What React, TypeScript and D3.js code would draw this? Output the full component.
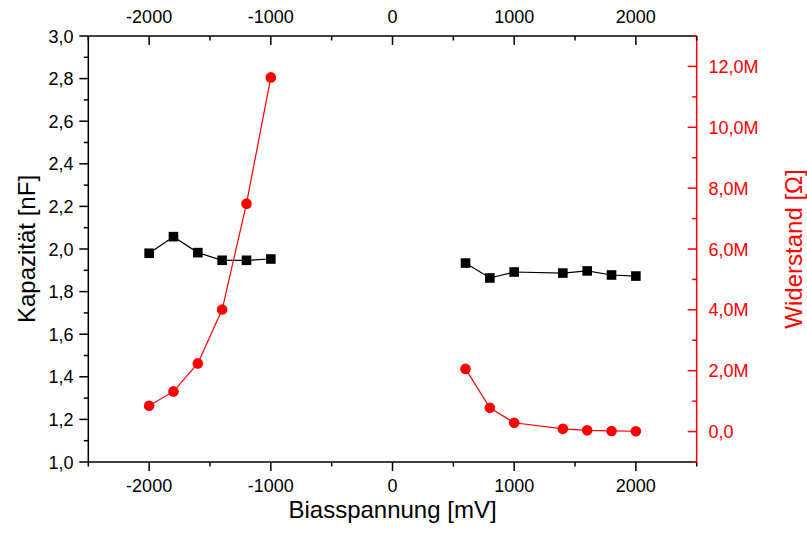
import React from "react";
import * as d3 from "d3";

const voltLeft = [-2000, -1800, -1600, -1400, -1200, -1000];
const voltRight = [600, 800, 1000, 1400, 1600, 1800, 2000];
const capLeft = [1.98, 2.058, 1.983, 1.947, 1.947, 1.953];
const capRight = [1.934, 1.864, 1.892, 1.887, 1.897, 1.878, 1.873];
const resLeftM = [0.85, 1.32, 2.24, 4.01, 7.49, 11.64];
const resRightM = [2.06, 0.78, 0.29, 0.09, 0.04, 0.02, 0.01];

const xMajor = [-2000, -1000, 0, 1000, 2000];
const xMinor = [-2500, -1500, -500, 500, 1500, 2500];
const yMajor = [1.0, 1.2, 1.4, 1.6, 1.8, 2.0, 2.2, 2.4, 2.6, 2.8, 3.0];
const yMinor = [1.1, 1.3, 1.5, 1.7, 1.9, 2.1, 2.3, 2.5, 2.7, 2.9];
const rMajorM = [0, 2, 4, 6, 8, 10, 12];
const rMinorM = [-1, 1, 3, 5, 7, 9, 11, 13];

const W = 807, H = 533;
const L = 88.3, R = 696.7, T = 36, B = 462;
const RED = "#ff0000";
const FONT = "'Liberation Sans', Arial, sans-serif";

export default function App() {
  const x = d3.scaleLinear().domain([-2500, 2500]).range([L, R]);
  const y = d3.scaleLinear().domain([1.0, 3.0]).range([B, T]);
  const yr = d3.scaleLinear().domain([-1e6, 13e6]).range([B, T]);

  const fmtL = (v: number) => v.toFixed(1).replace(".", ",");
  const fmtR = (v: number) => (v === 0 ? "0,0" : v.toFixed(1).replace(".", ",") + "M");

  const lineCap = d3.line<[number, number]>().x((d) => x(d[0])).y((d) => y(d[1]));
  const lineRes = d3.line<[number, number]>().x((d) => x(d[0])).y((d) => yr(d[1] * 1e6));

  const capGroups: [number, number][][] = [
    voltLeft.map((v, i) => [v, capLeft[i]] as [number, number]),
    voltRight.map((v, i) => [v, capRight[i]] as [number, number]),
  ];
  const resGroups: [number, number][][] = [
    voltLeft.map((v, i) => [v, resLeftM[i]] as [number, number]),
    voltRight.map((v, i) => [v, resRightM[i]] as [number, number]),
  ];

  return (
    <svg
      width={W}
      height={H}
      style={{ position: "fixed", left: 0, top: 0, background: "#fff" }}
      fontFamily={FONT}
    >
      <rect x={0} y={0} width={W} height={H} fill="#fff" />
      {/* red series */}
      {resGroups.map((g, i) => (
        <path key={"rl" + i} d={lineRes(g) || ""} fill="none" stroke={RED} strokeWidth={1.2} />
      ))}
      {resGroups.flat().map((d, i) => (
        <circle key={"rc" + i} cx={x(d[0])} cy={yr(d[1] * 1e6)} r={5.3} fill={RED} />
      ))}
      {/* black series */}
      {capGroups.map((g, i) => (
        <path key={"cl" + i} d={lineCap(g) || ""} fill="none" stroke="#000" strokeWidth={1.2} />
      ))}
      {capGroups.flat().map((d, i) => (
        <rect key={"cs" + i} x={x(d[0]) - 4.8} y={y(d[1]) - 4.8} width={9.6} height={9.6} fill="#000" />
      ))}

      {/* frame: left, bottom, top in black */}
      <line x1={L} x2={L} y1={T} y2={B} stroke="#000" strokeWidth={1.5} />
      <line x1={L} x2={R} y1={B} y2={B} stroke="#000" strokeWidth={1.5} />
      <line x1={L} x2={R} y1={T} y2={T} stroke="#000" strokeWidth={1.5} />
      <line x1={R} x2={R} y1={T} y2={B} stroke={RED} strokeWidth={1.5} />

      {/* bottom axis ticks (outward) */}
      {xMajor.map((v) => (
        <g key={"bx" + v}>
          <line x1={x(v)} x2={x(v)} y1={B} y2={B + 9} stroke="#000" strokeWidth={1.5} />
          <text x={x(v)} y={492} textAnchor="middle" fontSize={18} fill="#000">
            {v}
          </text>
        </g>
      ))}
      {xMinor.map((v) => (
        <line key={"bxm" + v} x1={x(v)} x2={x(v)} y1={B} y2={B + 4.5} stroke="#000" strokeWidth={1.5} />
      ))}
      {/* top axis ticks (inward) */}
      {xMajor.map((v) => (
        <g key={"tx" + v}>
          <line x1={x(v)} x2={x(v)} y1={T} y2={T + 9} stroke="#000" strokeWidth={1.5} />
          <text x={x(v)} y={23} textAnchor="middle" fontSize={18} fill="#000">
            {v}
          </text>
        </g>
      ))}
      {xMinor.map((v) => (
        <line key={"txm" + v} x1={x(v)} x2={x(v)} y1={T} y2={T + 4.5} stroke="#000" strokeWidth={1.5} />
      ))}
      {/* left axis */}
      {yMajor.map((v) => (
        <g key={"ly" + v}>
          <line x1={L - 9} x2={L} y1={y(v)} y2={y(v)} stroke="#000" strokeWidth={1.5} />
          <text x={73.5} y={y(v) + 6.5} textAnchor="end" fontSize={18} fill="#000">
            {fmtL(v)}
          </text>
        </g>
      ))}
      {yMinor.map((v) => (
        <line key={"lym" + v} x1={L - 4.5} x2={L} y1={y(v)} y2={y(v)} stroke="#000" strokeWidth={1.5} />
      ))}
      {/* right axis (ticks inward) */}
      {rMajorM.map((v) => (
        <g key={"ry" + v}>
          <line x1={R - 9} x2={R} y1={yr(v * 1e6)} y2={yr(v * 1e6)} stroke={RED} strokeWidth={1.5} />
          <text x={708.5} y={yr(v * 1e6) + 6.5} textAnchor="start" fontSize={18} fill={RED}>
            {fmtR(v)}
          </text>
        </g>
      ))}
      {rMinorM.map((v) => (
        <line key={"rym" + v} x1={R - 4.5} x2={R} y1={yr(v * 1e6)} y2={yr(v * 1e6)} stroke={RED} strokeWidth={1.5} />
      ))}

      {/* axis titles */}
      <text x={(L + R) / 2} y={518} textAnchor="middle" fontSize={24} fill="#000">
        Biasspannung [mV]
      </text>
      <text
        transform={`translate(35, ${(T + B) / 2}) rotate(-90)`}
        textAnchor="middle"
        fontSize={24}
        fill="#000"
      >
        Kapazität [nF]
      </text>
      <text
        transform={`translate(802, ${(T + B) / 2}) rotate(-90)`}
        textAnchor="middle"
        fontSize={24}
        fill={RED}
      >
        Widerstand [Ω]
      </text>
    </svg>
  );
}
